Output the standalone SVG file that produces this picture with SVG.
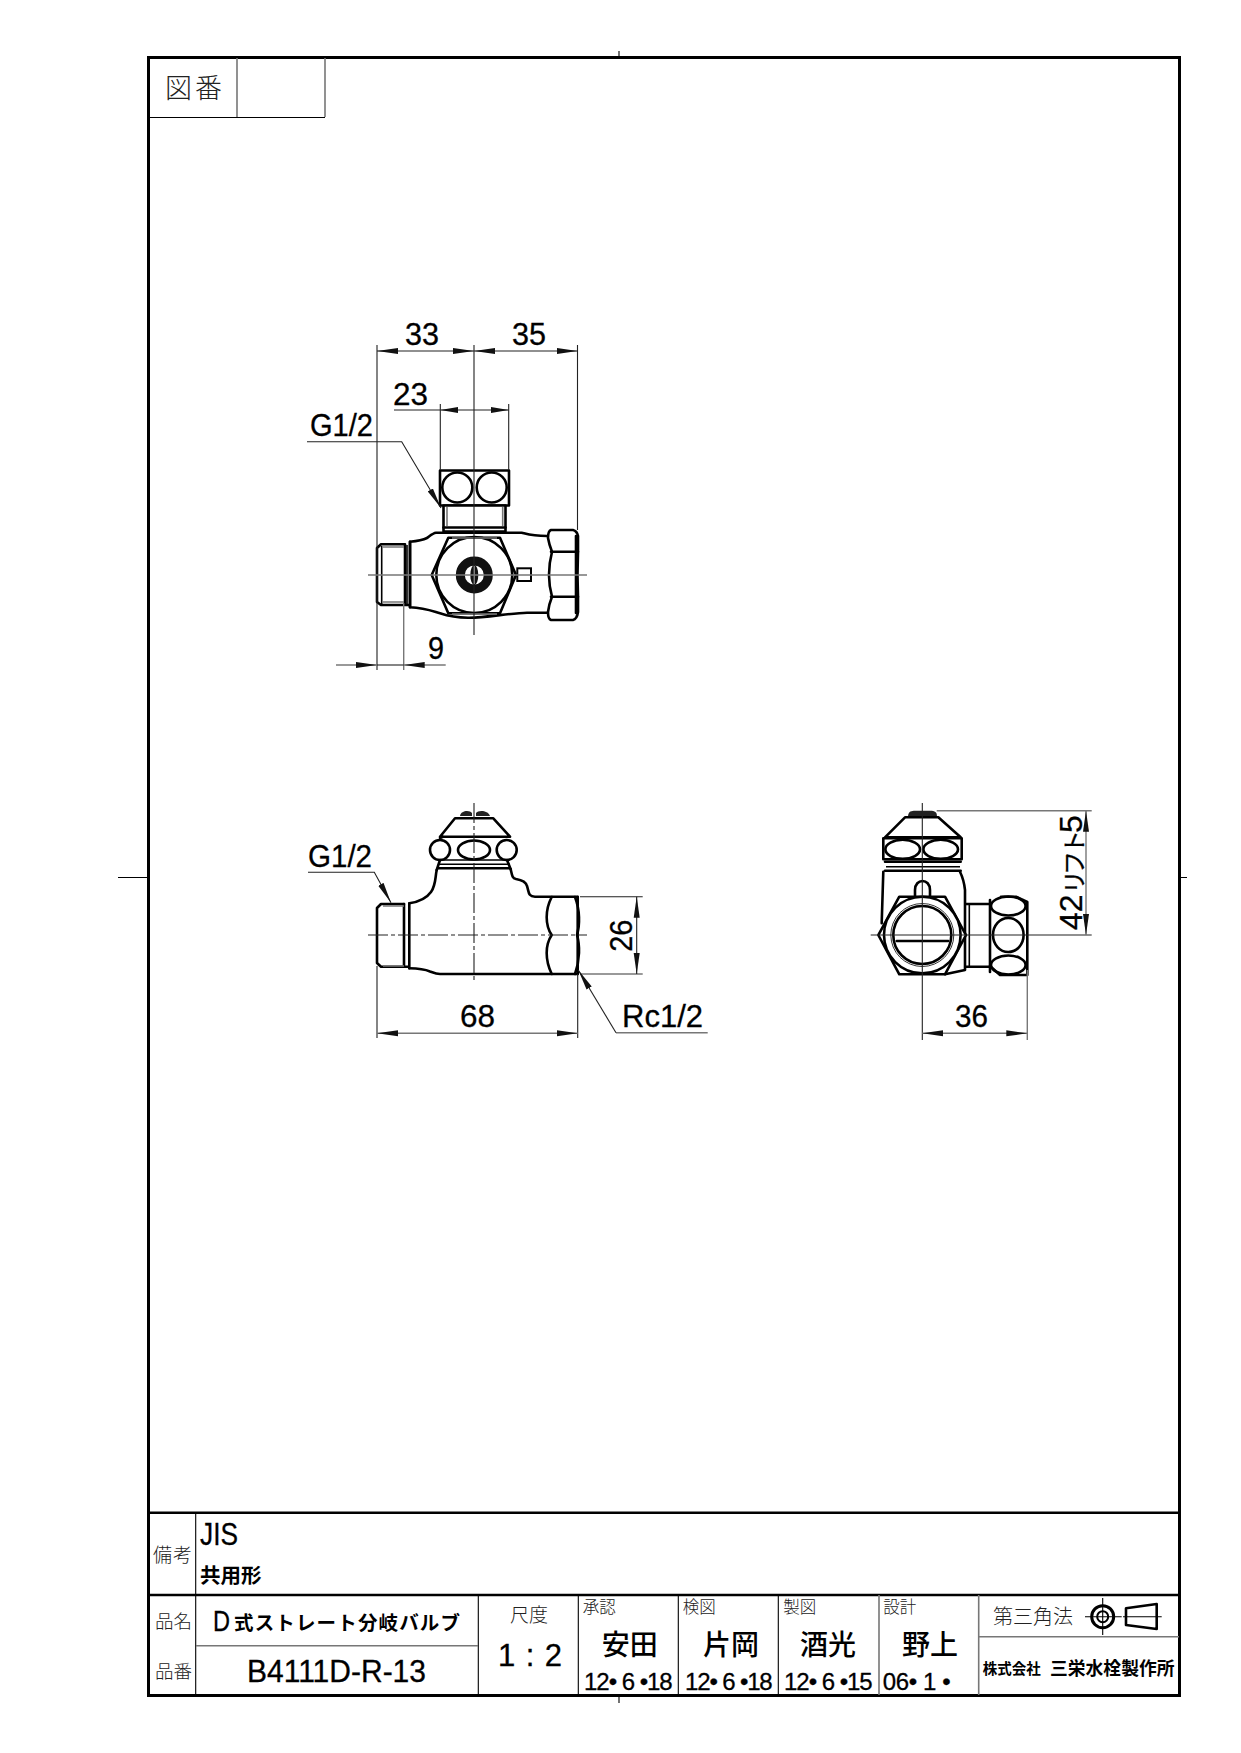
<svg xmlns="http://www.w3.org/2000/svg" width="1241" height="1753" viewBox="0 0 1241 1753">
<style>
text{fill:#000;font-family:"Liberation Sans","Noto Sans CJK JP",sans-serif}
.jp{font-family:"Noto Sans CJK JP",sans-serif}
.thin{font-weight:300;fill:#222}
.b{font-weight:700}
.m{font-weight:500}
.dim{font-size:32px;stroke:#000;stroke-width:.3}
.h{stroke:#000;stroke-width:.3}
.p{fill:none;stroke:#000;stroke-width:2.6;stroke-linejoin:round;stroke-linecap:round}
.w{fill:#fff;stroke:#000;stroke-width:2.6;stroke-linejoin:round}
.p2{fill:none;stroke:#000;stroke-width:1.6}
.gr{fill:none;stroke:#777;stroke-width:1.6}
.t{fill:none;stroke:#000;stroke-width:1.1}
.d{fill:none;stroke:#222;stroke-width:1.1}
.dg{fill:none;stroke:#777;stroke-width:1.4}
.a{marker-end:url(#ar)}
.aa{marker-start:url(#ar);marker-end:url(#ar)}
.s{marker-start:url(#as);marker-end:url(#as)}
.cl{fill:none;stroke:#222;stroke-width:1.1;stroke-dasharray:20 3 4 3}
</style>
<defs>
<marker id="ar" markerUnits="userSpaceOnUse" markerWidth="21" markerHeight="7" refX="21" refY="3.5" orient="auto-start-reverse"><path d="M0 .5L21 3.5L0 6.5z" fill="#111"/></marker>
<marker id="as" markerUnits="userSpaceOnUse" markerWidth="18" markerHeight="7" refX="18" refY="3.5" orient="auto-start-reverse"><path d="M0 .5L18 3.5L0 6.5z" fill="#111"/></marker>
</defs>
<rect width="1241" height="1753" fill="#fff"/>

<g id="frame">
<rect x="148.5" y="57.5" width="1031" height="1638" fill="none" stroke="#000" stroke-width="3"/>
<path class="t" d="M619 51V57M619 1697V1703M118 877.5H148M1179 877.5H1187"/>
</g>

<g id="drawing-number">
<path class="gr" d="M237 58V117M325 58V117"/>
<path class="t" d="M149 117.5H325"/>
<text class="jp thin" x="165" y="98" font-size="27" textLength="57">図番</text>
</g>

<g id="top-view">
<path class="p" d="M410 541.7C418 541 423 540 427 538C431 535 433 533 436 532.7H521.7C527 534 532 536 547 536M410 541.7V607.3C425 608 432 611 440 613.3C448 616 455 617.7 468 617.7C485 618 510 613 527 612.7H547"/>
<path class="p" d="M405 544.3H381L377 548V602L381 605H410M405 544.3V605M410 541.7V607.3"/>
<path class="p2" d="M381.7 546V604M407 545V606"/>
<path class="gr" d="M383 547H404M383 602H404"/>
<path class="w" d="M551 530H573Q577 531 578 536L578 551.7Q577 575 578 596.7L578 612Q577 619 573 620H551Q548 619 548 612Q549 604 552 596.7Q546 575 552 551.7Q549 544 548 538Q548 531 551 530Z"/>
<path class="p" d="M551 551.7H578M551 596.7H578"/>
<path class="p" d="M576 536V613" stroke-width="3.5"/>
<rect class="w" x="440" y="470.5" width="69" height="35"/>
<circle class="p" cx="457.3" cy="487.5" r="15"/>
<circle class="p" cx="491.7" cy="487.5" r="15"/>
<rect class="w" x="443.5" y="505.5" width="62" height="26"/>
<path class="p" d="M443.5 527.5H505.5"/>
<path class="gr" d="M447 507V526M502.7 507V526"/>
<path class="w" d="M431.7 575L448.3 537.7H500L516 575L500 613.3H448.3Z"/>
<circle class="p" cx="474.3" cy="575" r="38"/>
<path class="gr" d="M452 538H497M452 614H497"/>
<circle cx="474.3" cy="575" r="14" fill="none" stroke="#111" stroke-width="9"/>
<ellipse cx="474.3" cy="575" rx="4" ry="10" fill="#111"/>
<path d="M474.3 566V584" stroke="#eee" stroke-width="1.4"/>
<rect x="517.3" y="568.3" width="13.7" height="12.7" fill="#fff" stroke="#000" stroke-width="2"/>
</g>

<g id="front-view">
<path class="p" d="M409.3 903.3C418 902 426 899 431 892C436 885 435 878 436.7 870M510.7 869.3C512 875 512 878 516 879C522 880 526 882 527 886C529 892 528 896.7 535 896.7H577.7M409.3 968.3C418 968.5 424 969 430 971.5C434 973 436 974 440 974H577.7"/>
<path class="p" d="M409.3 903.3V968.3M404 904H381L377 908V963L381 966.7H409"/>
<path class="p" d="M404 904V966.7"/>
<path class="gr" d="M383 966H404M383 906H404"/>
<path class="p" d="M551.7 897C545 910 545 925 551.7 935C545 945 545 960 551.7 974"/>
<path class="p" d="M575 897C580 910 580 925 577 935C580 945 580 960 575 974"/>
<path class="p" d="M577.7 897V974" stroke-width="3"/>
<path d="M460 816C461 810 470 810 472 813V816ZM476 816V813C478 810 488 810 490 816Z" fill="#222"/>
<path class="p" d="M455 818.3H493.3L510 836.7H440ZM443 836.7L440 838"/>
<circle class="p" cx="440" cy="850" r="10"/>
<circle class="p" cx="506.7" cy="850" r="10"/>
<ellipse class="p" cx="474" cy="850" rx="16" ry="9.5"/>
<path class="p2" d="M438 860H510M438 864.3H510"/>
<path class="p" d="M438 868.3H510"/>
<path class="p" d="M440 860L436.7 870M507 860L510.7 869.3"/>
</g>

<g id="side-view">
<path class="p" d="M883.3 871.7L881.7 923.3M960 871.7Q964 880 965 890V970L945 974.3"/>
<path class="p" d="M915 897V890C915 878 930 878 930 890V897"/>
<path class="w" d="M899.3 896.7H945L966 935L945 974.3H899.3L878.3 935Z"/>
<circle class="w" cx="922.3" cy="935" r="38.3"/>
<circle fill="none" stroke="#333" stroke-width="1" cx="922.3" cy="935" r="31.5"/>
<circle class="p" cx="922.3" cy="935" r="29"/>
<path class="p" d="M896.7 941H948.3"/>
<path d="M908 816.7C908 811 912 810.7 915 810.7H930C935 810.7 937 812 937 816.7Z" fill="#222"/>
<path class="p" d="M905 817.3H938.3L960.7 837.3H885Z"/>
<rect class="p" x="883.3" y="838.3" width="78.4" height="21"/>
<ellipse class="p" cx="902.7" cy="849.3" rx="17.3" ry="9.5"/>
<ellipse class="p" cx="940.7" cy="849.3" rx="17.3" ry="9.5"/>
<path class="p" d="M885 861.7H960.7M885 870.7H960.7"/>
<path class="p2" d="M886 866.7H960"/>
<path class="p" d="M966 904H990M966 966.7H990"/>
<path class="p2" d="M969.3 904V966.7"/>
<path class="p" d="M990 900V972"/>
<path class="p" d="M1001 896.7H1016L1027.3 902V975H1000L990 966"/>
<ellipse class="p" cx="1008.3" cy="906" rx="17.3" ry="9.5"/>
<ellipse class="p" cx="1008.3" cy="935" rx="15.3" ry="17"/>
<ellipse class="p" cx="1008.3" cy="965" rx="17.3" ry="9.5"/>
</g>

<g id="connectors">
<path class="d" d="M377 345V670M474 345V635M577.5 345V530M440.3 404V470M508.7 404V470"/>
<path class="dg" d="M368 575H587M403.7 603V670"/>
<path class="d aa" d="M377 351H474"/>
<path class="d aa" d="M474 351H577.5"/>
<path class="d" d="M394 410H440"/>
<path class="d s" d="M440.3 410H508.7"/>
<path class="dg a" d="M336 665H377"/>
<path class="dg a" d="M445.7 665H403.7"/>
<path class="d" d="M377 665H403.7"/>
<path class="d a" d="M307 441.7H401.7L441 508"/>
<path class="cl" d="M368 935H587M474 803V983"/>
<path class="d" d="M377 966V1038M577.7 974V1038M580 896.7H642.7"/>
<path class="dg" d="M580 974H642.7"/>
<path class="dg aa" d="M377 1033.3H577.7"/>
<path class="d aa" d="M636.7 896.7V974"/>
<path class="d a" d="M308 872.3H374.3L391 902.7"/>
<path class="dg" d="M707.7 1032.7H616"/>
<path class="d a" d="M616 1032.7L578.3 970"/>
<path class="d" d="M870.7 935H1091.7M922.3 803V1040"/>
<path class="dg" d="M936.7 810.7H1091.7M1027.3 970V1040"/>
<path class="dg aa" d="M1086 810.7V935"/>
<path class="dg aa" d="M922.3 1033.3H1027.3"/>
</g>

<g id="dimension-labels">
<text class="dim" x="405" y="345" textLength="34" lengthAdjust="spacingAndGlyphs">33</text>
<text class="dim" x="512" y="345" textLength="34" lengthAdjust="spacingAndGlyphs">35</text>
<text class="dim" x="393" y="405" textLength="35" lengthAdjust="spacingAndGlyphs">23</text>
<text class="dim" x="310" y="436" textLength="63" lengthAdjust="spacingAndGlyphs">G1/2</text>
<text class="dim" x="428" y="659" textLength="16" lengthAdjust="spacingAndGlyphs">9</text>
<text class="dim" x="308" y="867" textLength="64" lengthAdjust="spacingAndGlyphs">G1/2</text>
<text class="dim" x="460" y="1027" textLength="35" lengthAdjust="spacingAndGlyphs">68</text>
<text class="dim" x="622" y="1027" textLength="81" lengthAdjust="spacingAndGlyphs">Rc1/2</text>
<text class="dim" transform="translate(631.7 951.7) rotate(-90)" textLength="32" lengthAdjust="spacingAndGlyphs">26</text>
<text class="dim" x="955" y="1027" textLength="33" lengthAdjust="spacingAndGlyphs">36</text>
<text class="dim" transform="translate(1081.7 930) rotate(-90)"><tspan x="0">42</tspan><tspan class="jp" x="36 55 76" y="1" font-size="24">リフト</tspan><tspan x="97" y="0">5</tspan></text>
</g>

<g id="title-block">
<path d="M149 1512.7H1179M149 1595H1179" stroke="#000" stroke-width="2.6"/>
<path class="t" d="M195.7 1513V1695M478.3 1595V1695M578.3 1595V1695M678.3 1595V1695M778.3 1595V1695"/>
<path class="gr" d="M196 1645.7H478M879 1595V1695M978.7 1595V1695M979 1636.7H1179"/>
<text class="jp thin" x="153" y="1562" font-size="19" textLength="39">備考</text>
<text class="h" x="200" y="1545" font-size="31" textLength="38" lengthAdjust="spacingAndGlyphs">JIS</text>
<text class="jp b" x="200" y="1583" font-size="20.5">共用形</text>
<text class="jp thin" x="155" y="1628" font-size="18.5" textLength="37">品名</text>
<text class="jp thin" x="155" y="1678" font-size="18.5" textLength="37">品番</text>
<text class="h" x="213" y="1631" font-size="29" textLength="17" lengthAdjust="spacingAndGlyphs">D</text>
<text class="jp b" x="234" y="1630" font-size="19.5" textLength="226">式ストレート分岐バルブ</text>
<text class="h" x="247" y="1681.7" font-size="31" textLength="179" lengthAdjust="spacingAndGlyphs">B4111D-R-13</text>
<text class="jp thin" x="510" y="1622" font-size="19" textLength="38">尺度</text>
<text class="h" x="498" y="1665.7" font-size="31" textLength="64" xml:space="preserve">1 : 2</text>
<text class="jp thin" x="582.7" y="1613" font-size="16.5">承認</text>
<text class="jp thin" x="682.7" y="1613" font-size="16.5">検図</text>
<text class="jp thin" x="783.3" y="1613" font-size="16.5">製図</text>
<text class="jp thin" x="883.3" y="1613" font-size="16.5">設計</text>
<text class="jp m" x="601.7" y="1655" font-size="28">安田</text>
<text class="jp m" x="703" y="1655" font-size="28">片岡</text>
<text class="jp m" x="800" y="1655" font-size="28">酒光</text>
<text class="jp m" x="902" y="1655" font-size="28">野上</text>
<text class="h" x="584" y="1690" font-size="24" textLength="88.7" lengthAdjust="spacing" xml:space="preserve">12• 6 •18</text>
<text class="h" x="685" y="1690" font-size="24" textLength="87.7" lengthAdjust="spacing" xml:space="preserve">12• 6 •18</text>
<text class="h" x="784" y="1690" font-size="24" textLength="88.7" lengthAdjust="spacing" xml:space="preserve">12• 6 •15</text>
<text class="h" x="882.7" y="1690" font-size="24" textLength="68" lengthAdjust="spacing" xml:space="preserve">06• 1 •</text>
<text class="jp thin" x="993" y="1624" font-size="20" textLength="80">第三角法</text>
<circle cx="1102.7" cy="1616.7" r="11" fill="none" stroke="#000" stroke-width="3"/>
<circle cx="1102.7" cy="1616.7" r="5.5" fill="none" stroke="#000" stroke-width="2"/>
<path class="t" d="M1085 1616.7H1121.7M1102.7 1598V1635"/>
<path class="p" d="M1126 1608.3L1156.7 1604V1629L1126 1625Z"/>
<path class="t" d="M1123 1616.7H1161.7"/>
<text class="jp b" x="982.7" y="1674" font-size="14.5">株式会社</text>
<text class="jp b" x="1050" y="1675" font-size="17.8">三栄水栓製作所</text>
</g>
</svg>
